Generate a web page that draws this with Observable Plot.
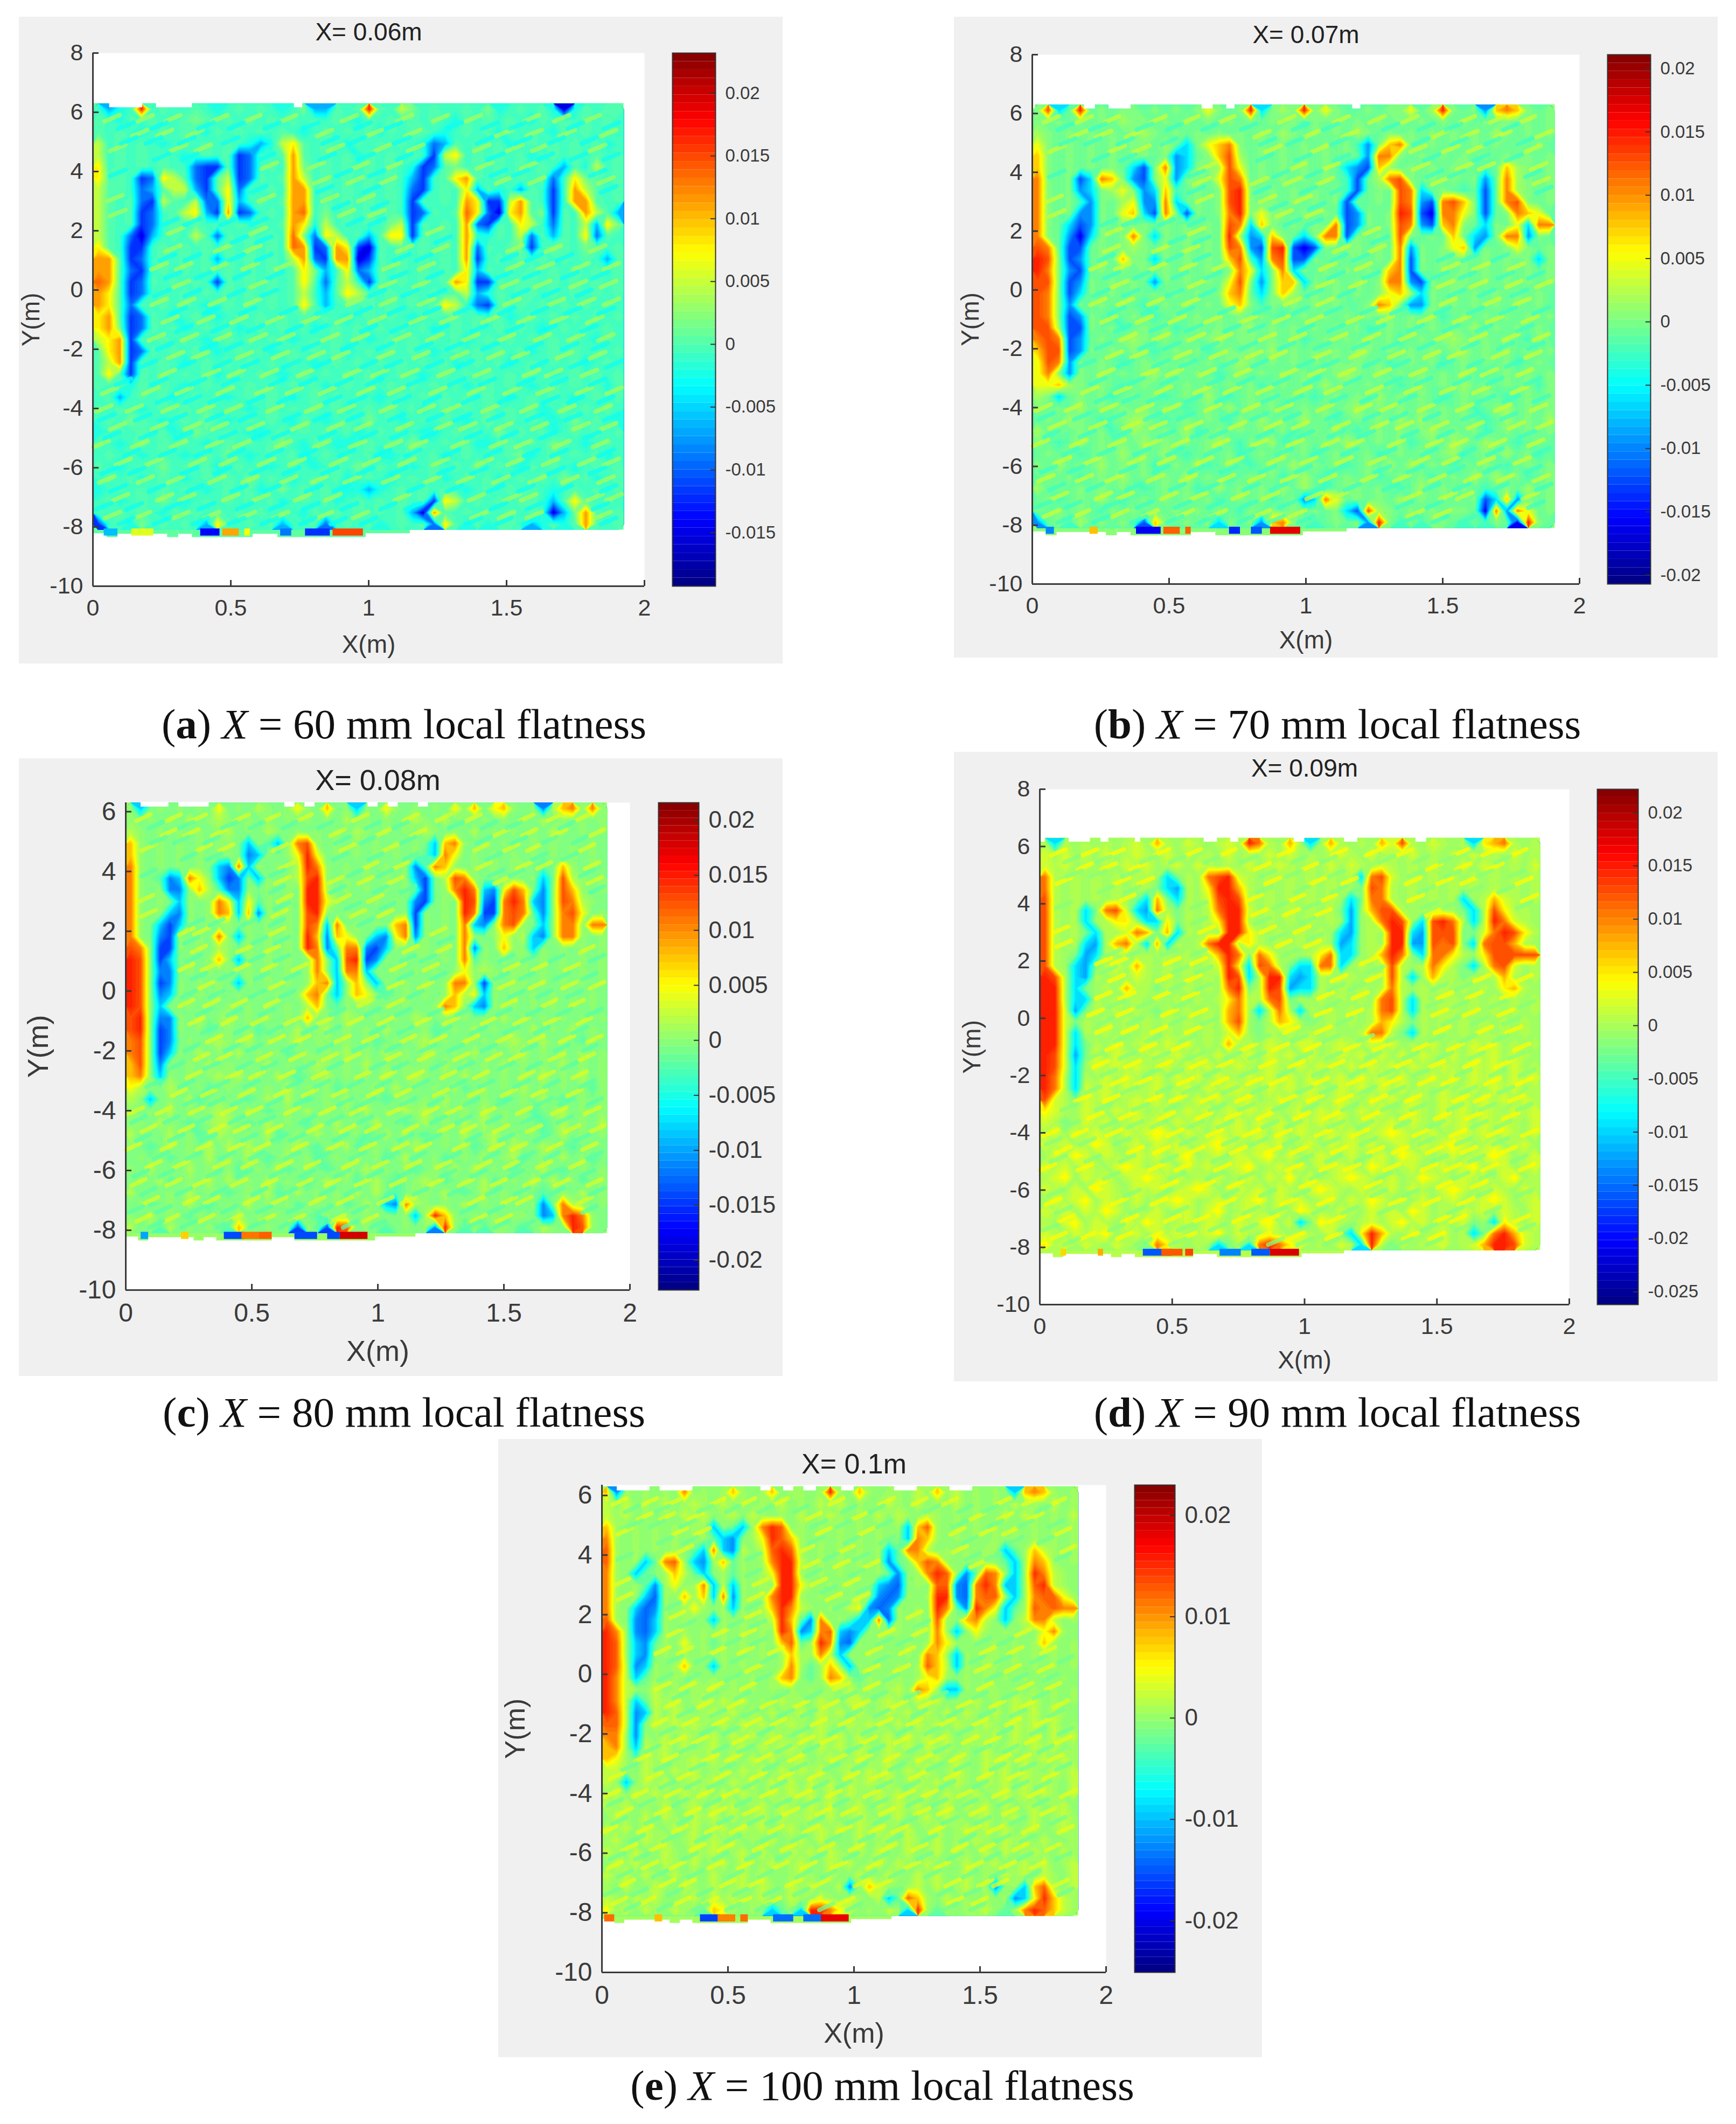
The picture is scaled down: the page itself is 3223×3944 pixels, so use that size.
<!DOCTYPE html>
<html><head><meta charset="utf-8">
<script src="https://cdn.jsdelivr.net/npm/d3@7"></script>
<script src="https://cdn.jsdelivr.net/npm/@observablehq/plot@0.6"></script>
<style>
html,body{margin:0;background:#fff}
#page{position:relative;width:3223px;height:3944px;overflow:hidden;background:#fff}
.box{position:absolute;background:#f0f0f0}
#page svg{position:absolute;background:transparent;overflow:visible}
.cap{position:absolute;transform:translateX(-50%);white-space:nowrap;font-family:"Liberation Serif",serif;font-size:79px;line-height:80px;color:#111}
</style></head><body><div id="page"></div>
<script>
// Level code -> flatness value (m), per panel
const levelCodes = "abcdefghijklmn";
const levelsA = [-.015,-.0115,-.009,-.006,-.002,-.0005,.0006,.002,.005,.008,.0118,.014,.017,.020];
const levelsB = [-.016,-.012,-.009,-.006,-.002,-.0005,.0006,.002,.005,.008,.011,.013,.015,.020];
const levelsC = [-.017,-.014,-.011,-.008,-.002,-.0005,.0006,.002,.005,.008,.011,.013,.015,.020];
const levelsD = [-.018,-.014,-.012,-.009,-.002,-.0002,.0008,.0024,.005,.008,.011,.013,.015,.020];
const levelsE = [-.018,-.014,-.012,-.009,-.002,-.0002,.0008,.0024,.005,.008,.011,.013,.0155,.020];
// Grid rows run from Y=6.3 down to Y=-8.1; columns from X=0 to the right edge.
const flatnessA = [
"fdefmfgffg fefgfgfefh ddgfgmgfih fgffgfhefg fgeaegfgg",
"gfegfgffgh gfgfgfgfgf gfgfegfgfg fgfegfgfgf egfgfgfgf",
"gfgfefgfgf egfgfgfgfe fgfgfgegfg gfefgfgegf gfegfgfgf",
"ifgfgfefgf gfgfedeijg fgfegfgfgf ecdgfgfgef gfgfgfgef",
"ifgfgfgfef gfgbcffgkg fgfgegfgfg fbijfgfgfg efgfgfgfg",
"jfgfgfgffc bbgbcfgfkh fgfgfgfgfe bcghfgfgfg fgfdgeifg",
"jggfbcjigc bgibcgfgki fgfgfgfgfd bfgjkgfgfg fgcfjhgfg",
"iggfcdgiid bgjcgfgfkk fgfgfgfgfc bfgfjdgefd gfbfkigfg",
"igfgcbigfi ccjdfgfgkk fgfgfgfgfb gfgfkjbbik gfbfkkgfg",
"igfgbcfgij dbkbcfgfkl fhfgfgfgfb cgfgljcajk ghbgfkigd",
"igfgbcfgfg fgfgfgfgkj eifgfgfhib gfgfkcbgfj ifcgfidjh",
"igfcadfgfi gcgfgfgflh cjifgdgjjb gfgfkfegfi cgdgfjcgf",
"jgfbbfgfgf gfgfgfgflk bckjbagfgf gfgfkcgfgh bfhgfhgfg",
"kkgbcfgfgf gdgfgfgfik cbkkabgfgf gfgfkbfgfg fgfgfgfdg",
"kkgcbfgfgf gfgfgfgfgj hdfjcdgfgf gfgfjdgfgf gfgfgfgfg",
"lkgbcgfgfg fbgfgfgfgj gcgifbgfgf gfgkjbbgfg gfgfgfgfg",
"kjgbcfgfgf gfgfgfgfgi fdgjigfgfg fgfgidegfg gfgfgfgfg",
"kjgcgfgfgf efgfgfgfgj gdfgfgfgfg fgjifcbgfg fgfgfgfgf",
"jkgbcgfefg fefgfgfgfg fgfefgfgfe fgfgfgfgef gfgfgfgfg",
"jkhbcgfgef gfgefgfgfg efgfgfgfgf gefgfgfgfg fefgfgfgf",
"ijkbgfgfgf efgfgfgfef gfgfgefgfg fgfgefgfgf gfgfgfegf",
"gjkbcgfgfg fefgfgefgf gfgefgfgfg fefgfgfgfg efgfgfgfg",
"gikbgfgfef gfgfgfgfgf efgfgfgfgf gfgefgfgef gfgfgefgf",
"gjgbgfgfgf gefgfgfefg fgfgfgefgf efgfgfgfgf gfefgfgfg",
"gfgegfgfef gfgfgfgfgf gefgfgfgfg fgfgefgfgf efgfgfgeg",
"fgdfgfgefg fgefgfgfef gfgfgfefgf gfgfgfgfef gfgfefgfg",
"gfgfefgfgf gfgfefgfgf gfgefgfgfg efgfgfgfgf gefgfgfgf",
"fgfhgfefgf hfefgfgfeg fefgfhfgef gfgfefhfgf gfefhfgfe",
"efgfgfgefh gfgfeefgfg fgfgefgfgf eefgfgfhfg fgefgfgfg",
"gfefhfgfgf efgfgfghfe gfeefgfgfh gfgfgeefgf gfhgfefgf",
"fgfgefgfef gfhfefgfge fgfgfgeefg fgefgfgfgh efgfgfgef",
"gfefgfhfgf gefgfgefgf efgfhfgfge fgfgfhfgfe gfgfefgfg",
"fgfgefgfef gfgfhfgfef gfgefgfefg fgefgfgefg fgfhfgefg",
"efgfgfgfgf efgfgefhfg fgfeedefgf gfgfefgfgf gfefgfgfg",
"fgefgfhfef gfgfgfgefg fgefgfgfgf gbjifgfgfg gfdgjgfgf",
"gfgfgfegfg fgfgfgfgfe gfgfgfgfgd akgfgfgfgf gfadhkgfg",
"bfgehfgfgf djgfgfgdff gcfgfgefgf gcjgegeggf degegkgfg"];
const flatnessB = [
"gldfmfgfgg fgfgfgigfg mdghgmgigf fgfggifhmg fgcjkjgfg",
"gfgfgfgfhg gfgfgfgfgf gfgfgegfgf gfgfgfgfgf gfgfgfgfg",
"hgfgfgfgfg hgfgfgfgfg fgfhgfgfgf hgfgfgfgfg fgfhgfgfg",
"igfgfgfgfg gfhfdgijkg fgfgfgfgfg ecgjkgfgfg fgfgfgfgf",
"jgfgfgfgfg gfgcdfgjlh fgfgfgfgfg fckkgfgfgf gfgfgfgfg",
"jgfgfgfgfd bgkcdgghli fgfgfgfgfd cbjhfgfgfg gfefjhgfg",
"kgfgbdkjgc bgicggfilk fgfgfgfgfe bfhklgfgfg fgcfkhgfg",
"kgfgcdghig cdjefgfglm gfgfgfgfge bfgflkdfgf efbfkhgfg",
"kgfgecgfhi cckdfgfglm gfgfgfgfgb gfgflkcbkl jgbfklgfg",
"kgfgccgfij dbkgbgfgkm giggfgfgfb cgfgmlbakk igbfgkjif",
"kgfdbcgfgf gfgfgfgflk djgfgfgfkb cgfglkcbjk gfdgfidkk",
"kgfcadgfgk gdgfgfgfmh cdjgfdgkkb gfgflgfgfj fdcgkkcgf",
"lkfbbfgfgh gfgfgfgflk cblmbabgfg gfgfkcgfgi jcgfgigfg",
"mlgbcfgfjg gdgfgfgfjl ecklbbgfgf gfgfkbgfgf gfgfgfgdg",
"mkgcbfgfgf gfgfgfgfgk idgkdgfgfg fgfjkbgfgf gfgfgfgfg",
"llgbcgfgfg fcgfgfgfil gcgjjdgfgf gfgkkcbgfg gfgfgfgfg",
"lkgbdgfgfg fgfgfgfgjk fdgjhfgfgf gfgijhdgfg fgfgfgfgf",
"lkgcgfgfgf efgfgfgfij gegfgfgfgf fgkjgccgfg fgfgfgfgf",
"lkgbcgfefg fefgfgfgfg fgfefgfgfg fgfgfgfgef gfgfgfgfg",
"llhbbgfgef gfgefgfgfg hfgfgfgfgf gefgfgfgfg fhfgfgfgf",
"klkbcfgfgh gfgfgfghfg gfgfgefgfg fgfgefgfgh gfgfgfegf",
"jllbcgfgfg fefgfgefgf gfhfgfgfgf hgfgfgfgfg hfgfgfgfg",
"ilkcgfgfef gfgfgfgfgh gfgfgfgfgf gfgefgfgef gfgfgefgf",
"ikgcgfgfgf ghfgfgfefg fgfgfgefgh gfgfgfgfgf gfefgfgfg",
"iijhgfgfef gfgfgfgfgf gefgfgfhfg fgfgefgfgf hfgfgfgeg",
"hgdfgfgefg fgefgfhfef gfgfgfefgf gfhfgfgfef gfgfefgfg",
"gfgfhfgfgf gfgfefgfhf gfgefgfgfg hfgfgfgfgf gefghfgfg",
"fgfhgfefgh hfefgfgfeg fhfgfhfgef gfgfhfhfgf gfefhfgfh",
"hfgfgfgefh gfgfhefgfg fgfgefgfhf efgfgfghfg fgefgfgfg",
"gfefhfgfgf hfgfgfghfe gfhefgfgfh gfgfgefgfh gfhgfefgf",
"fgfgefgfhf gfhfefgfge fgfhfgefgf fgefgfgfgh efgfhfgef",
"gfhfgfhfgf gefgfhefgf efgfhfgfge fgfhfhfgfe gfgfefgfg",
"fgfgefgfhf gfgfhfgfef gfgefhfefg fgefgfgefg fhfhfgefg",
"hfgfgfgfgf efgfgefhfg fgfhfhfefg gfgfefhfgf gfefgfhfg",
"fgefgfhfef gfgfgfgefg fgefgcdkif gfgfhfgfgf fgbdjcgfg",
"gfgfgfegfg fgfgfgfgfe gfgfgfgfgd blhgfgfgfg gfakckifg",
"cfgehfgfgf bjgfgfgdgf gcjkgfefgf gcmgegeggf efegfamgf"];
const flatnessC = [
"gdfgfgfgfi fgfhgfgigf jfgdgfigfg fgfigjfijg fgchjkgkg",
"gfgfgfhfgh gfgfgfgfgf gfhfgfgfgh gfhfgfgfgf gfhfgfgfg",
"hgfgfgfgfg hfgfhgfgfg fgfhgfgfgf hgfgfhfgfg fgfhgfgfg",
"jgfgfgfgfg gfdgedgklg fgfgfgfgfg fdjkgfgfgf fgfgfgfgf",
"jgfgfgfgfg gfcdgfgimi fgfgfgfgfg edkifgfgfg fgfgfgfgf",
"kgfgfgfgfd ckdhfgfhmk gfgfgfgfgc ekjgfgfgfg gfefjgfgf",
"kgfecdkigd bcfdgfghlm gfgfgfgfgd bfhlkgfgfg fgdflhgfg",
"kgfgccgjhe ccgfgfgfmm hfgfgfgfge bfgkmkdcil jfcgljgfg",
"kgfgfdgfgk idiegfgfmm igfgfgfgfc bfgfmlcbkm kdcglkhgf",
"kgfgdcgfgk jdjcgfgflm gfgfgfgfgb gfgfmkbbkl kecgklifg",
"kgfdbdgfgf gfgfgfgflk dkfgfgfjkb gfgfkdcgkl gfdgkkgkk",
"kgfcbgfgfk gdgfgfgfmj cjigfdcikc gfgfkgfgig hdcgkkgfg",
"lkgbbgfgfh gfgfgfgfmk cekkcbdgfg gfgfkcgfjg gdgfgfgfg",
"mlgbdfgfgj gdgfgfgfgk gdlmbcgfgf gfgfkegfgf gfgfgfgfg",
"mlgccfgfgf gfgfgfgfgk gdkkdgfgfg fgfgighgfg gfgfgfgfg",
"mlgbcgfgfg fdgfgfgfgj kdgjgdgfgf gfgkkgbgfg gfgfgfgfg",
"mlgcdgfgfg fgfgfgfgjk fdgjigefgf gfgjhidgfg fgfgfgfgf",
"mlgdgfgfgf gfgfgfgfhj fegfgfgfgf fgkjgdcgfg fgfgfgfgf",
"lmgccgfhfg hfgfgfgfjg gfhgfgfgfh gfgfgfgfhf gfgfgfgfg",
"lmgbcgfgef gfgefgfhfg hfgfgfhfgf gefgfhfgfg fhfgfhfgf",
"klgbcfgfgh gfhfgfghfg gfgfgefgfg hfgfgfgfgh gfhfgfegf",
"klgbdgfhfg fhfgfgefgf gfhfgfhfgf hgfgfhfgfg hfgfgfhfg",
"jlgcgfgfhf gfgfhfgfgh gfgfhfgfgf gfhfgfgfhf gfgfhfgfg",
"jkgdgfgfgh ghfgfhfefg hfgfgfhfgh gfgfhfgfgf gfhfgfhfg",
"ihgfhgfgef gfgfgfhfgf gefgfhfhfg fgfhefgfgf hfgfgfgeg",
"hgdfgfhefg fgefhfhfef gfhfgfefgf gfhfgfgfef gfhfefgfg",
"gfgfhfgfgh gfhfefgfhf gfgehfgfhg hfgfgfhfgf gefghfgfg",
"ggfhgfefgh hfefhfgfeg fhfgfhfgef hfgfhfhfgf gfefhfgfh",
"hfgfhfgefh gfgfhefgfh fgfgefhfhf efgfhfghfg fgefhfgfg",
"gfefhfgfhf hfhfgfghfe gfhefgfgfh gfgfgefhfh gfhgfefgf",
"fgfgefgfhf gfhfefhfge fgfhfgefhf fgefgfhfgh efgfhfgef",
"gfhfgfhfgf gefgfhefgf efhfhfgfge fgfhfhfgfe gfhfefgfg",
"fgfhefgfhf hfgfhfgfef hfgefhfefg hgefgfhefg fhfhfgefg",
"hfgfgfhfgf efgfhefhfg fgfhfhfefg gfhfefhfgf gfefgfhfg",
"fgefgfhfef gfhfgfgefg fgefhfdckh gfgfhfgfgf fgcfkhgfg",
"gfhfgfegfg fhfgfgfgfe gfgfgfgfgd hmjgfgfgfg gfcdkmkgf",
"hfgehfgfgf ejgfgfgbgf bmlfgfefgf gcmgegeggf efhgfmlgf"];
const flatnessD = [
"gdgfgfgfgh fjgfhgfghg mkgfjgdfjg fgfjhlgfhg fgdijkgfg",
"hfhfgfhfgh gfhfgfgfhf gfhfhfgfgh gfhfgfhfgf gfhfgfhfg",
"hghfgfgfhg hfghfhgfgf hfghgfgfhf hgfhgfgfgf fhfhgfgfh",
"kgfgfgfgfg gfdegfklmh gfgfgfgfgf gdklhfgfgf gfgfgfgfg",
"kgfgfgfgfg gedcgfimmj gfgfgfgfgf felkgfgfgf gfgfgfgfg",
"lgfgfgfgfe djedgfhlml gfgfgfgfgf dekkgfgfgf gdfgjhgfg",
"lgfgdeklhd ckgegfgkmm hfgfgfgfge cfjllgfgfg fedgliggf",
"lgfgdfgiif ddiegfgimm gfgfgfgfgf cfgkmlfdlm kgdgmkhgf",
"lgfgedgfhk jejdgfgfmm igfgfgfgfd cfgfmmdcll leehkmlig",
"lgfgdcgjkg djdgfgkmmg igfgfgfgfc dfgfmmcclk ledklljgf",
"lgfecdgfgf gfgfgfgjmk ekifgfgikd dfgjmkedkk igfilllll",
"lgfdceghfj gfgfgfghmi dlkgeddkkd fgfglgfgki gedgklhfg",
"mlgdcgfgfh gfgfgfgfml dgmmdcdgfg gfgflgdfjg gegfgjgfg",
"mmgdefgfjg gegfgfgfkm egmlcddgfg fgfgkgfgfg fgfgfijgf",
"mmgddgfgfg fgfgfgfgik ggklegfgfg fgfklgdgfg gfgfgfgfg",
"mmhcegfgfg fegfgfgfjk gdgkgdgfgf gfgklgdgfg gfgfgfgfg",
"mmhegfgfgf gfgfgfgfjl fegjigefgf gfgjigegfg fgfgfgfgf",
"mmhdgfgfgf gfgfgfgfhj fegfgfgfgf fgkkgedgfg fgfgfgfgf",
"mmhdegfhfg hfhghfgfjg gfhgfhhfgh gfhghfgfhf gfhghfgfg",
"mlhcehfhgf ghghfhfhfg hfhghfhfgh ghfhfhfhgf hfhghfhgf",
"mlhdfhghgh gfhfhghfgh gfhgfhghgf hfhghfhgfh gfhghfhfg",
"mkgdgfhfhg fhfhghfhgf hghfhfhfgh fhghfhfghg hfhghfhgh",
"mkgdhghfhf ghfghfhghh gfhghfhgfh ghfhghfgfh fghfhghfg",
"lhgehghfgh ghfhfhfhfg hfghfghfgh gfhghfhgfh ghfhghfhg",
"ihgfhgfhgh fghfhghfhg hghfghfhgh fhghfghgfh ghfhgfhgh",
"hgefhghfgh ghfhghfhgh fhghfhghgh fghghfhgfh ghfhghgfh",
"ghfhghgfhg hihfhgfhgh ghfhfhgfhg hfghihgfhf ghghfhgfh",
"hghfgihfgh fhghfghihg fhghfghfhg hghfghfhgh ihfghfghf",
"fhgihfhgfh ghfhifghfh ghifhfghgf hfghfihgfg hfghihfgh",
"hghfhgfhih fghfhghfgh ifghghfhgh gfihfghfgh fhifghfgh",
"ghifhghfgh ihghfgfhfg hfhgifhfgh ihgfhfgihg fhghfhifg",
"hgfhfihgfh ghfghihfgh ghfhgfhihg fhfghfhgfh ihfghgfhg",
"fhghifhgfh fghihfghfg hifhghfghf hgihfgfhfg hfghihfgh",
"hghfhgihfg fhfghfhifg hgfhfihgfh gfhghfihfg fhghfhgfh",
"gfhifhgfhg ihfghfhgfh ghifhdeihg fghfhighfg fhefdigfh",
"hgfhghifgh fhghfghifh gfhgfhgfhe dimjgfhfgh fgdekmjhg",
"ighfhgfhgf ekigfgfdeg dkmkihfgfh gdmgegfggh fghjmmlhg"];
const flatnessE = [
"jcgfgfgfkf gfgjgfgjfg gfgmgfjgfg gfhgjghfgf gfdjkjgfg",
"hfhfgfhfgh gfhfgfgfhf gfhfhfgfgh gfhfgfhfgf gfhfgfhfg",
"hghfgfgfhg hfghfhgfgf hfghgfgfhf hgfhgfgfgf fhfhgfgfh",
"jgfgfgfgfg gdfedgkmlf gfgfgfgfgf gdjlgfgfgf gfgfgfgfg",
"kgfgfgfgfg gedcfgimlj gfgfgfgfgf fdkjgfgfgf gfgfgfgfg",
"lgfgfgfgfe dkdchfhlml gfgfgfgfgd ekkhfgfgfg gdegjhgfg",
"lgfgdeklgd cgjegfgkmm hfgfgfgfgc efjlkgfgfg fedgkjgfg",
"kgfdefgjhe dfgegfgimm gfgfgfgfge cfgkmlgcel kgdgmkhgf",
"kgfgecgifg kdhdgfgfmm igfgfgfgdc bfgfllcbkm kddglmhgf",
"kgfgdbgfjg jdkcgfgkmm gfgfgfgfcb cgfgmmcbkl lgdgkllig",
"kgfdbcgfgi gfgdgfgjmk hgfgfhicbc gfgfmkecmk ideglklkk",
"lgfcbdgfgf fdgfgfghmj eckfgeddkb gfgflgfjkh fdfhkkhfg",
"mkgcbdgfgf gfgfgfgfmk cdkldcdgfg gfgfkgdfig fgfgfikgf",
"mlgdcegfif gegfgfgfjl egmkcbgfgf fgfgkigfgf gfgfgjgfg",
"mlgdcfgfgf gfgfgfgfgj ggkhdgfgfg fgfkjgdgfg gfgfgfgfg",
"mlhcdgfgjf fdgfgfgfgk gegjgdgfgf gfgljhdgfg gfgfgfgfg",
"mkhdegfgfg fgfgfgfgjk fegkjgegfg gfgijgfgfg fgfgfgfgf",
"mkhgfhfgfg ghfgfgfgfg fgfgfhfgfg hfkjgddgfg gfgfgfgfg",
"mkhdehghfg hfhghfgfhg gfhgfhhfgh gfhghfgfhf gfhghfgfg",
"mlhcdhfhgf ghghfhfhfg hfhghfhfgh ghfhfhfhgf hfhghfhgf",
"llhcfhghgh gfhfhghfgh gfhgfhghgf hfhghfhgfh gfhghfhfg",
"kkgcgfhfhg fhfhghfhgf hghfhfhfgh fhghfhfghg hfhghfhgh",
"jkgdhghfhf ghfghfhghh gfhghfhgfh ghfhghfgfh fghfhghfg",
"jigehghfgh ghfhfhfhfg hfghfghfgh gfhghfhgfh ghfhghfhg",
"hhgfhgfhgh fghfhghfhg hghfghfhgh fhghfghgfh ghfhgfhgh",
"hgdfhghfgh ghfhghfhgh fhghfhghgh fghghfhgfh ghfhghgfh",
"ghfhghgfhg hfhfhgfhgh ghfhfhgfhg hfghfhgfhf ghghfhgfh",
"hghfgfhfgh fhghfghfhg fhghfghfhg hghfghfhgh fhfghfghf",
"fhgfhfhgfh ghfhfghfhg ghfhfghgfg hfghfhgfgh fghfhfghg",
"hghfhgfhfh fghfhghfgh fghghfhghg fhfghfghfh fhfghfghg",
"ghffhghfgh fhghfgfhfg hfhgffhfgh fhgfhfgfhg fhghfhffg",
"hgfhffhgfh ghfghfhfgh ghfhgfhfhg fhfghfhgfh fhfghgfhg",
"fhghffhgfh fghfhfghfg hffhghfghf hgfhfgfhfg hfghfhfgh",
"hghfhgfhfg fhfghfhffg hgfhffhgfh gfhghffhfg fhghfhgfh",
"gfhffhgfhg fhfghfhgfh ghffhcfjhg fghfhfghfg cfgdjlgfh",
"hgfhghffgh fhghfghffh gfhgfhgfhd eljgfhfgfg fgcdimjhg",
"ighfhgfhgf ejigfgfdeg dmmkihfgfh gdmgegfggh fegkmljhg"];

// Slanted ripple flecks of the background: [Y, [X...]]
const rippleWarm = [
[5.8,[.07,.19,.29,.46,.58,.71,.93,1.13,1.26,1.38,1.59,1.70,1.81]],
[5.3,[.17,.26,.37,.58,.67,.84,1.02,1.16,1.27,1.49,1.60,1.72,1.87]],
[4.8,[.09,.31,.40,.61,.88,1.05,1.17,1.41,1.53,1.62,1.83]],
[4.2,[.33,.64,.81,.97,1.09,1.42,1.58,1.66,1.85]],
[3.7,[.30,.62,.83,.95,1.07,1.49,1.61,1.86]],
[3.1,[.08,.63,.86,.99,1.10]],
[2.6,[.09,.26,.61,.92,1.03,1.84]],
[2.0,[.24,.30,.50,.60,1.24,1.31,1.60,1.75]],
[1.4,[.22,.29,.47,.58,.68,1.13,1.26,1.53,1.67,1.83]],
[.8,[.24,.33,.46,.57,.69,1.08,1.21,1.53,1.64,1.77,1.88]],
[.2,[.21,.32,.49,.60,.71,1.07,1.19,1.51,1.63,1.76,1.87]],
[-.4,[.24,.34,.45,.58,.95,1.07,1.21,1.52,1.68,1.79,1.88]],
[-1.0,[.19,.28,.41,.53,.66,.79,.91,1.03,1.18,1.29,1.44,1.57,1.69,1.82]],
[-1.6,[.23,.35,.47,.60,.70,.86,.97,1.12,1.24,1.37,1.50,1.63,1.75,1.86]],
[-2.2,[.18,.30,.39,.55,.68,.81,.90,1.06,1.19,1.33,1.46,1.55,1.71,1.83]],
[-2.8,[.16,.27,.43,.52,.64,.77,.94,1.04,1.15,1.28,1.41,1.59,1.67,1.80]],
[-3.4,[.06,.21,.33,.48,.62,.73,.85,.99,1.10,1.25,1.39,1.52,1.64,1.78,1.89]],
[-4.0,[.04,.15,.28,.41,.51,.66,.80,.92,1.07,1.21,1.30,1.44,1.58,1.72,1.85]],
[-4.6,[.09,.24,.36,.46,.59,.75,.88,.98,1.13,1.27,1.36,1.49,1.62,1.77,1.87]],
[-5.2,[.03,.17,.31,.44,.54,.69,.83,.96,1.09,1.18,1.33,1.47,1.56,1.70,1.84]],
[-5.8,[.11,.22,.38,.49,.63,.74,.89,1.01,1.14,1.26,1.42,1.53,1.66,1.79,1.88]],
[-6.4,[.05,.19,.30,.45,.57,.71,.82,.94,1.08,1.23,1.35,1.48,1.61,1.73,1.86]],
[-7.0,[.10,.26,.34,.50,.61,.76,.87,1.03,1.12,1.39,1.52,1.58,1.82,1.89]],
[-7.6,[.07,.18,.32,.43,.56,.68,.84,.97,1.11,1.40,1.50,1.60,1.85]]];
const rippleCool = [
[5.55,[.12,.24,.41,.52,.65,.79,.98,1.09,1.31,1.44,1.54,1.75,1.88]],
[5.05,[.13,.22,.34,.50,.86,.96,1.12,1.42,1.56,1.68,1.80]],
[4.5,[.06,.25,.35,.63,.85,.99,1.13,1.46,1.64,1.76,1.88]],
[3.95,[.09,.28,.60,.80,.91,1.03,1.47,1.55,1.62,1.83]],
[3.4,[.07,.60,.84,1.01,1.12,1.87]],
[2.85,[.22,.62,.90,1.04,1.87]],
[2.3,[.28,.36,.49,.60,.95,1.03]],
[1.7,[.26,.34,.53,.62,1.19,1.27,1.55,1.70,1.80]],
[1.1,[.27,.36,.52,.62,1.12,1.20,1.51,1.60,1.71,1.87]],
[.5,[.21,.29,.40,.54,.66,1.11,1.24,1.49,1.59,1.73,1.84]],
[-.1,[.25,.36,.52,.64,1.03,1.15,1.25,1.55,1.66,1.78]],
[-.7,[.18,.31,.43,.56,.71,.84,.98,1.10,1.23,1.34,1.50,1.62,1.74,1.86]],
[-1.3,[.21,.33,.46,.59,.73,.82,1.00,1.11,1.26,1.40,1.53,1.65,1.80,1.90]],
[-1.9,[.15,.26,.42,.51,.65,.79,.93,1.06,1.20,1.31,1.44,1.60,1.73,1.84]],
[-2.5,[.20,.34,.47,.57,.72,.83,1.00,1.09,1.24,1.35,1.51,1.62,1.76,1.89]],
[-3.1,[.11,.24,.38,.50,.67,.78,.91,1.02,1.17,1.32,1.43,1.57,1.69,1.83]],
[-3.7,[.12,.26,.36,.45,.59,.70,.87,.96,1.12,1.23,1.37,1.50,1.66,1.75,1.86]],
[-4.3,[.05,.18,.31,.44,.56,.72,.83,.95,1.10,1.24,1.34,1.46,1.60,1.74,1.88]],
[-4.9,[.07,.20,.33,.49,.61,.68,.85,1.00,1.11,1.22,1.38,1.51,1.65,1.81]],
[-5.5,[.14,.27,.40,.52,.66,.78,.92,1.05,1.16,1.30,1.45,1.59,1.69,1.86]],
[-6.1,[.06,.16,.35,.47,.60,.72,.86,.99,1.11,1.28,1.40,1.55,1.68,1.83]],
[-6.7,[.09,.23,.37,.53,.65,.80,.90,1.06,1.17,1.31,1.46,1.57,1.71,1.87]],
[-7.3,[.04,.15,.29,.41,.55,.67,.79,.93,1.07,1.16,1.36,1.47,1.60,1.84]],
[-7.8,[.12,.25,.39,.52,.64,.78,.89,1.00,1.10,1.38,1.49,1.59,1.87]]];

// Yellow/blue dashes along the lower edge: [x1, x2, value]
const lowerEdgeA = [[.04,.09,-.006],[.14,.22,.006],[.39,.46,-.014],[.47,.53,.011],[.55,.57,.007],[.68,.72,-.009],[.77,.86,-.012],[.87,.98,.015]];
const lowerEdgeB = [[.05,.08,-.010],[.21,.24,.008],[.38,.47,-.016],[.48,.54,.012],[.56,.58,.012],[.72,.76,-.014],[.80,.84,-.012],[.87,.98,.017]];
const lowerEdgeC = [[.06,.09,-.010],[.22,.25,.007],[.39,.47,-.014],[.46,.53,.011],[.53,.58,.012],[.67,.76,-.014],[.80,.85,-.014],[.85,.96,.018]];
const lowerEdgeD = [[.08,.10,.006],[.22,.24,.008],[.39,.50,-.016],[.46,.54,.012],[.55,.58,.013],[.68,.76,-.014],[.80,.87,-.016],[.87,.98,.018]];
const lowerEdgeE = [[.01,.05,.012],[.21,.24,.008],[.39,.47,-.016],[.46,.53,.011],[.55,.58,.012],[.68,.76,-.014],[.80,.88,-.014],[.87,.98,.018]];
// Jagged bottom of the field: [x1, x2, lowest Y]
const lowerBumps = [[0,.05,-8.22],[.05,.09,-8.35],[.09,.27,-8.24],[.27,.31,-8.35],[.31,.36,-8.24],[.36,.58,-8.35],[.58,.67,-8.24],[.67,.99,-8.35],[.99,1.15,-8.22]];
// White notches in the top edge: [x1, x2]
const notchesA = [[.06,.18],[.23,.36],[.73,.76]];
const notchesB = [[0,.01],[.19,.23],[.28,.36],[.62,.66],[.71,.74],[1.17,1.2]];
const notchesC = [[.06,.17],[.21,.33],[.63,.67],[.71,.75],[.96,1.0],[1.04,1.08],[1.16,1.2]];
const notchesD = [[0,.02],[.11,.19],[.23,.26],[.36,.38],[.62,.67],[.72,.75],[.96,1.0],[1.15,1.2],[1.42,1.46]];
const notchesE = [[.06,.19],[.23,.36],[.63,.67],[.72,.76],[.8,.85],[.95,1.0],[1.16,1.25],[1.38,1.47]];

const xTicks = [0,.5,1,1.5,2];
const yTicksTall = [-10,-8,-6,-4,-2,0,2,4,6,8];
const yTicksShort = [-10,-8,-6,-4,-2,0,2,4,6];
const barTicks5 = [-.015,-.01,-.005,0,.005,.01,.015,.02];
const barTicksB = [-.02,-.015,-.01,-.005,0,.005,.01,.015,.02];
const barTicksD = [-.025,-.02,-.015,-.01,-.005,0,.005,.01,.015,.02];
const barTicksE = [-.02,-.01,0,.01,.02];

const jetStops = [0,.125,.375,.625,.875,1];
const jetColors = ["#000080","#0000ff","#00ffff","#ffff00","#ff0000","#800000"];

const panels = [
 {title:"X= 0.06m",rows:flatnessA,levels:levelsA,lower:lowerEdgeA,notches:notchesA,box:[35,31,1453,1232],plot:[172,98,1196,1088],bar:[1248,1328],top:8,right:1.925,range:[-.01927,.0232],barTicks:barTicks5,yTicks:yTicksTall,font:43,barFont:33,labelFont:46,
  warm:.0035,cool:-.0028,yLab:-114,xLab:109,tLab:-38,cap:["a","60",750,1305]},
 {title:"X= 0.07m",rows:flatnessB,levels:levelsB,lower:lowerEdgeB,notches:notchesB,box:[1771,31,3189,1221],plot:[1916,101,2932,1084],bar:[2984,3064],top:8,right:1.91,range:[-.0207,.0211],barTicks:barTicksB,yTicks:yTicksTall,font:43,barFont:33,labelFont:46,
  warm:.0032,cool:-.0025,yLab:-114,xLab:105,tLab:-36,cap:["b","70",2483,1305]},
 {title:"X= 0.08m",rows:flatnessC,levels:levelsC,lower:lowerEdgeC,notches:notchesC,box:[35,1408,1453,2555],plot:[233,1490,1169,2395],bar:[1222,1297],top:6.3,right:1.91,range:[-.0227,.0216],barTicks:barTicksB,yTicks:yTicksShort,font:48,barFont:44,labelFont:54,
  warm:.0034,cool:-.0022,yLab:-162,xLab:114,tLab:-41,cap:["c","80",750,2583]},
 {title:"X= 0.09m",rows:flatnessD,levels:levelsD,lower:lowerEdgeD,notches:notchesD,box:[1771,1396,3189,2565],plot:[1930,1465,2913,2422],bar:[2965,3041],top:8,right:1.89,range:[-.0262,.0222],barTicks:barTicksD,yTicks:yTicksTall,font:43,barFont:33,labelFont:46,
  warm:.0042,cool:-.0016,yLab:-125,xLab:104,tLab:-38,cap:["d","90",2483,2583]},
 {title:"X= 0.1m",rows:flatnessE,levels:levelsE,lower:lowerEdgeE,notches:notchesE,box:[925,2672,2343,3820],plot:[1117,2757,2053,3662],bar:[2106,2181],top:6.35,right:1.89,range:[-.0251,.023],barTicks:barTicksE,yTicks:yTicksShort,font:48,barFont:44,labelFont:52,
  warm:.0038,cool:-.0018,yLab:-160,xLab:114,tLab:-38,cap:["e","100",1638,3833]}
];

const cleanRows = rows => rows.map(r => r.replace(/ /g,"").padEnd(49,"g").slice(0,49));
const ink = "#3a3a3a";
const page = document.getElementById("page");
const place = (el,l,t) => { el.style.left=l+"px"; el.style.top=t+"px"; page.appendChild(el); };

for (const p of panels) {
  const [bx0,by0,bx1,by1]=p.box, [px0,py0,px1,py1]=p.plot, [lo,hi]=p.range;
  const bg=document.createElement("div"); bg.className="box";
  bg.style.width=(bx1-bx0)+"px"; bg.style.height=(by1-by0)+"px"; place(bg,bx0,by0);

  const rows = cleanRows(p.rows);
  const grid = rows.flatMap(s => Array.from(s, c => p.levels[levelCodes.indexOf(c)]));
  // flecks only show on the quiet background, not on the streaks
  const quiet = (x,y) => {
    const r = rows[Math.min(36,Math.max(0,Math.round((6.3-y)/.4)))];
    const c0 = Math.floor(x/p.right*49), cs=[c0-1,c0,c0+1].map(c=>r[Math.min(48,Math.max(0,c))]);
    return cs.every(c=>"efgh".includes(c));
  };
  const flecks = (list,value) => list.flatMap(([y,xs]) => xs.filter(x => x+.03<p.right && quiet(x,y)).map(x => ({x,y,value})));
  const ripple = [...flecks(rippleWarm,p.warm),...flecks(rippleCool,p.cool)];

  const colorOpt = {type:"linear",domain:jetStops.map(t=>lo+t*(hi-lo)),range:jetColors,clamp:true,interpolate:"rgb"};
  const levels = d3.range(64).map(i=>lo+i*(hi-lo)/64);
  const lowerY = -8.1;
  const chart = Plot.plot({
    width:bx1-bx0,height:by1-by0,
    marginLeft:px0-bx0,marginRight:bx1-px1,marginTop:py0-by0,marginBottom:by1-py1,
    x:{domain:[0,2]},y:{domain:[-10,p.top]},color:colorOpt,
    style:{fontFamily:"Liberation Sans",background:"transparent"},
    marks:[
      Plot.frame({fill:"white",stroke:null}),
      Plot.rect(lowerBumps,{x1:d=>d[0],x2:d=>d[1],y1:lowerY,y2:d=>d[2],fill:()=>.0006}),
      Plot.rect([p.right],{x1:0,x2:d=>d,y1:6.3,y2:lowerY,fill:()=>.0006}),
      Plot.contour(grid,{width:49,height:rows.length,x1:0,x2:p.right,y1:6.3,y2:lowerY,fill:Plot.identity,thresholds:levels}),
      Plot.link(ripple,{x1:d=>d.x-.028,x2:d=>d.x+.028,y1:d=>d.y-.11,y2:d=>d.y+.11,stroke:d=>d.value,strokeWidth:8,strokeLinecap:"round",strokeOpacity:.75}),
      Plot.rect(p.lower,{x1:d=>d[0],x2:d=>d[1],y1:-8.06,y2:-8.3,fill:d=>d[2]}),
      Plot.rect(p.notches,{x1:d=>d[0],x2:d=>d[1],y1:6.16,y2:6.32,fill:"white"}),
      Plot.ruleX([0],{stroke:ink,strokeWidth:3}),
      Plot.ruleY([-10],{stroke:ink,strokeWidth:3}),
      Plot.axisX(xTicks,{tickSize:-11,tickPadding:11+24,tickFormat:d=>String(d),label:null,fontSize:p.font,stroke:ink,strokeWidth:3,fill:ink}),
      Plot.axisY(p.yTicks,{tickSize:-11,tickPadding:11+18,tickFormat:d=>String(d),label:null,fontSize:p.font,stroke:ink,strokeWidth:3,fill:ink}),
      Plot.text([p.title],{text:d=>d,frameAnchor:"top",lineAnchor:"middle",dy:p.tLab,fontSize:p.labelFont,fill:"#222"}),
      Plot.text(["X(m)"],{text:d=>d,frameAnchor:"bottom",lineAnchor:"middle",dy:p.xLab,fontSize:p.labelFont,fill:ink}),
      Plot.text(["Y(m)"],{text:d=>d,frameAnchor:"left",textAnchor:"middle",lineAnchor:"middle",dx:p.yLab,rotate:-90,fontSize:p.labelFont,fill:ink})
    ]
  });
  place(chart,bx0,by0);

  const [c0,c1]=p.bar;
  const bar = Plot.plot({
    width:c1-c0+140,height:py1-py0,
    marginLeft:0,marginRight:140,marginTop:0,marginBottom:0,
    x:{domain:[0,1],axis:null},y:{domain:[lo,hi],axis:null},color:colorOpt,
    style:{fontFamily:"Liberation Sans",background:"transparent"},
    marks:[
      Plot.rect(levels,{x1:0,x2:1,y1:d=>d,y2:d=>d+(hi-lo)/64,fill:d=>d+(hi-lo)/128}),
      Plot.frame({stroke:"#333",strokeWidth:2}),
      Plot.axisY(p.barTicks,{anchor:"right",tickSize:-10,tickPadding:10+18,tickFormat:d=>String(d),label:null,fontSize:p.barFont,stroke:"#333",strokeWidth:2,fill:ink})
    ]
  });
  place(bar,c0,py0);

  const cap=document.createElement("div"); cap.className="cap";
  cap.innerHTML=`(<b>${p.cap[0]}</b>) <i>X</i> = ${p.cap[1]} mm local flatness`;
  place(cap,p.cap[2],p.cap[3]);
}
</script></body></html>
